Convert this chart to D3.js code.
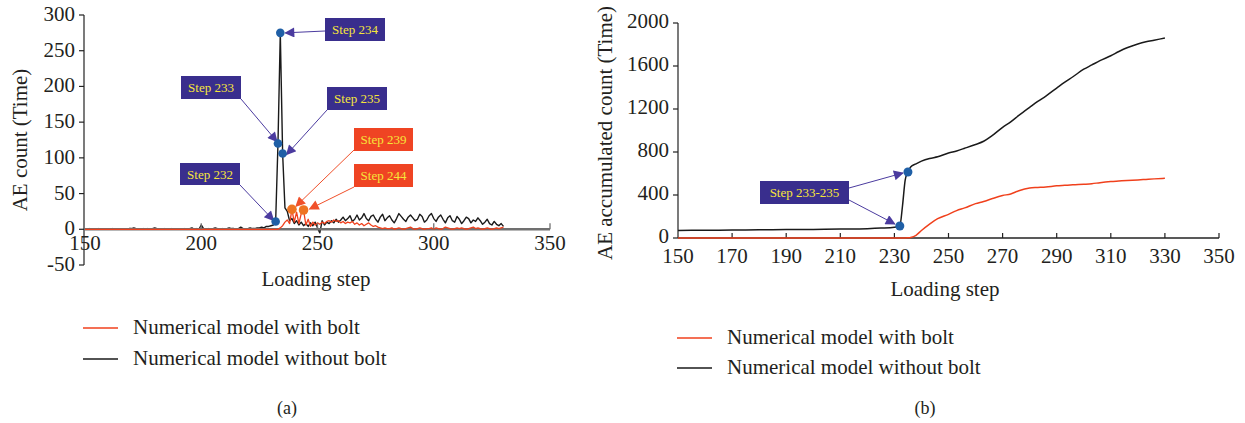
<!DOCTYPE html>
<html><head><meta charset="utf-8">
<script src="https://cdn.jsdelivr.net/npm/d3@7"></script>
<style>body{margin:0;background:#fff}</style>
</head><body>
<svg id="c" width="1245" height="423"></svg>
<script>
// ---------- DATA ----------
const stepsA = d3.range(150, 331);
const blackA = [
0,0,1,0,0,0,1,0,0,0,
0,0,1,0,0,0,0,0,0,1,
1,2,1,0,0,1,0,1,0,1,
2,1,0,0,1,0,0,1,0,0,
1,0,0,1,0,1,2,0,1,0,
6,1,0,1,0,1,2,1,0,1,
0,1,2,1,1,0,1,3,1,0,
1,2,1,1,2,2,3,2,4,4,
5,6,11,120,275,106,30,25,12,15,
8,12,6,10,5,8,4,9,5,10,
2,-5,12,6,10,8,12,9,14,10,
13,17,12,15,19,11,14,20,13,16,
22,15,12,18,20,14,10,17,21,12,
16,19,13,9,15,22,18,14,11,17,
20,16,12,14,21,18,10,13,19,22,
15,11,17,20,14,9,16,19,12,10,
18,14,8,12,17,15,9,13,11,16,
12,7,10,14,8,6,11,7,5,8,
4];
const redA = [
0,0,0,0,0,0,0,0,0,0,
0,0,0,0,0,0,0,0,0,0,
0,0,0,0,0,0,0,0,0,0,
0,0,0,0,0,0,0,0,0,0,
0,0,0,0,0,0,0,0,0,0,
0,0,0,0,0,0,0,0,0,0,
0,0,0,0,0,0,0,0,0,0,
0,0,0,0,0,0,0,0,0,0,
0,0,0,0,2,5,10,13,8,28,
10,24,8,22,27,6,14,4,10,6,
9,7,10,8,11,12,10,13,11,12,
9,11,8,10,9,11,7,9,6,8,
5,7,9,6,4,5,3,2,1,2,
1,1,2,0,1,2,1,0,1,2,
3,1,0,1,2,1,0,1,1,2,
0,2,1,0,1,3,2,1,0,1,
2,1,2,1,0,1,2,3,1,2,
1,0,1,2,1,0,1,2,1,2,
3];
const xTicksA = [150,200,250,300,350];
const yTicksA = [-50,0,50,100,150,200,250,300];
const markedBlackA = [232,233,234,235];
const markedRedA = [239,244];

const stepsB = [150,160,170,180,190,200,210,220,225,230,232,233,234,235,236,238,240,243,246,250,253,256,260,263,266,270,273,276,280,283,286,290,293,296,300,303,306,310,313,316,320,323,326,330];
const blackB = [70,72,74,76,78,80,83,87,92,100,112,300,540,614,660,690,715,740,755,790,810,835,870,900,950,1030,1080,1140,1215,1270,1320,1395,1450,1500,1570,1610,1650,1695,1735,1770,1805,1825,1840,1860];
const redB   = [0,0,0,0,0,0,0,0,0,0,0,0,0,2,5,25,70,130,180,220,255,280,320,340,365,395,410,440,465,470,475,485,490,495,500,505,515,525,530,535,540,545,550,555];
const xTicksB = [150,170,190,210,230,250,270,290,310,330,350];
const yTicksB = [0,400,800,1200,1600,2000];
const markedBlackB = [232,235];

const seriesNames = ["Numerical model with bolt","Numerical model without bolt"];

// ---------- STYLE ----------
const FONT = '"Liberation Serif", Tinos, "Nimbus Roman", "Nimbus Roman No9 L", FreeSerif, "DejaVu Serif", serif';
const RED="#f0401c", BLACK="#1a1a1a", BOXBLUE="#392e8d", BOXORANGE="#ef4423",
      TXTYEL="#f6e53a", ARBLUE="#4b3b9f", ARORANGE="#f0502a", DOTBLUE="#1f5fa6", DOTORANGE="#ee7422";
const svg = d3.select("#c").style("font-family",FONT);
const defs = svg.append("defs");
function marker(id,col){
  defs.append("marker").attr("id",id).attr("viewBox","0 0 10 10").attr("refX",9).attr("refY",5)
   .attr("markerWidth",12).attr("markerHeight",10).attr("markerUnits","userSpaceOnUse").attr("orient","auto")
   .append("path").attr("d","M0,0L10,5L0,10Z").attr("fill",col);
}
marker("ab",ARBLUE); marker("ao",ARORANGE);
const FS=21;
function txt(g,x,y,s,anchor,size,col){
  return g.append("text").attr("x",x).attr("y",y).attr("text-anchor",anchor||"start")
    .style("font-size",(size||FS)+"px").style("font-family",FONT).attr("fill",col||"#231f20").text(s);
}

// ---------- CHART A ----------
const xA = d3.scaleLinear().domain([150,350]).range([85,550]);
const yA = d3.scaleLinear().domain([-50,300]).range([265,15]);
const gA = svg.append("g");
gA.append("line").attr("x1",84).attr("x2",84).attr("y1",yA(300)).attr("y2",yA(-50)).attr("stroke","#222").attr("stroke-width",1.2);
yTicksA.forEach(t=>{
  gA.append("line").attr("x1",79).attr("x2",84).attr("y1",yA(t)).attr("y2",yA(t)).attr("stroke","#222").attr("stroke-width",1.2);
  txt(gA,75,yA(t)+6,t,"end");
});
const lineA = d3.line().x(d=>xA(d[0])).y(d=>yA(d[1]));
gA.append("path").datum(stepsA.map((s,i)=>[s,blackA[i]])).attr("d",lineA).attr("fill","none").attr("stroke",BLACK).attr("stroke-width",1.4).attr("stroke-linejoin","round");
gA.append("line").attr("x1",84).attr("x2",xA(350)).attr("y1",yA(0)).attr("y2",yA(0)).attr("stroke","#707070").attr("stroke-width",2.6);
gA.append("path").datum(stepsA.map((s,i)=>[s,redA[i]])).attr("d",lineA).attr("fill","none").attr("stroke",RED).attr("stroke-width",1.3).attr("stroke-linejoin","round");
xTicksA.forEach(t=>{
  if(t>150) gA.append("line").attr("x1",xA(t)).attr("x2",xA(t)).attr("y1",yA(0)).attr("y2",yA(0)-6).attr("stroke","#707070").attr("stroke-width",1.3);
  txt(gA,xA(t),yA(0)+21,t,"middle");
});
txt(gA,316,286,"Loading step","middle");
txt(gA,0,0,"AE count (Time)","middle").attr("transform","translate(27,140) rotate(-90)");

function box(g,x0,y0,x1,y1,fill,label){
  g.append("rect").attr("x",x0).attr("y",y0).attr("width",x1-x0).attr("height",y1-y0).attr("fill",fill);
  txt(g,(x0+x1)/2,(y0+y1)/2+4.5,label,"middle",13,TXTYEL);
}
function arrow(g,x0,y0,x1,y1,col,mk){
  g.append("line").attr("x1",x0).attr("y1",y0).attr("x2",x1).attr("y2",y1).attr("stroke",col).attr("stroke-width",1).attr("marker-end",`url(#${mk})`);
}
const valA = s => blackA[stepsA.indexOf(s)];
const valRA = s => redA[stepsA.indexOf(s)];
arrow(gA,325,31,xA(234)+5,yA(valA(234)),ARBLUE,"ab");
arrow(gA,241,99,xA(233)-1,yA(valA(233))-2,ARBLUE,"ab");
arrow(gA,327,110,xA(235)+4,yA(valA(235))+1,ARBLUE,"ab");
arrow(gA,240,185,xA(232)-2,yA(valA(232))-1,ARBLUE,"ab");
arrow(gA,354,150,xA(239)+4,yA(valRA(239))-3,ARORANGE,"ao");
arrow(gA,354,187,xA(244)+6,yA(valRA(244))-1,ARORANGE,"ao");
markedBlackA.forEach(s=>gA.append("circle").attr("cx",xA(s)).attr("cy",yA(valA(s))).attr("r",4.3).attr("fill",DOTBLUE));
markedRedA.forEach(s=>gA.append("circle").attr("cx",xA(s)).attr("cy",yA(valRA(s))).attr("r",4.8).attr("fill",DOTORANGE));
box(gA,325,18,385,41,BOXBLUE,"Step 234");
box(gA,181,76,241,99,BOXBLUE,"Step 233");
box(gA,327,87,387,110,BOXBLUE,"Step 235");
box(gA,180,163,240,185,BOXBLUE,"Step 232");
box(gA,354,128,413,151,BOXORANGE,"Step 239");
box(gA,354,164,413,187,BOXORANGE,"Step 244");

function legend(g,x,y0,dy){
  [RED,BLACK].forEach((c,i)=>{
    g.append("line").attr("x1",x).attr("x2",x+35).attr("y1",y0+i*dy).attr("y2",y0+i*dy).attr("stroke",c).attr("stroke-width",1.3);
    txt(g,x+50,y0+i*dy+6,seriesNames[i]);
  });
}
legend(gA,83,328,31);
txt(gA,287,414,"(a)","middle",18);

// ---------- CHART B ----------
const xB = d3.scaleLinear().domain([150,350]).range([678,1219]);
const yB = d3.scaleLinear().domain([0,2000]).range([238,23]);
const gB = svg.append("g");
gB.append("line").attr("x1",xB(150)).attr("x2",xB(150)).attr("y1",yB(2000)).attr("y2",yB(0)).attr("stroke","#222").attr("stroke-width",1.2);
yTicksB.forEach(t=>{
  gB.append("line").attr("x1",xB(150)-5).attr("x2",xB(150)).attr("y1",yB(t)).attr("y2",yB(t)).attr("stroke","#222").attr("stroke-width",1.2);
  txt(gB,xB(150)-9,yB(t)+5,t,"end");
});
gB.append("line").attr("x1",xB(150)).attr("x2",xB(350)).attr("y1",yB(0)).attr("y2",yB(0)).attr("stroke","#222").attr("stroke-width",1.3);
xTicksB.forEach(t=>{
  if(t>150) gB.append("line").attr("x1",xB(t)).attr("x2",xB(t)).attr("y1",yB(0)).attr("y2",yB(0)-5).attr("stroke","#222").attr("stroke-width",1.2);
  txt(gB,xB(t),yB(0)+25,t,"middle");
});
const lineB = d3.line().x(d=>xB(d[0])).y(d=>yB(d[1])).curve(d3.curveMonotoneX);
gB.append("path").datum(stepsB.map((s,i)=>[s,redB[i]])).attr("d",lineB).attr("fill","none").attr("stroke",RED).attr("stroke-width",1.5);
gB.append("path").datum(stepsB.map((s,i)=>[s,blackB[i]])).attr("d",lineB).attr("fill","none").attr("stroke",BLACK).attr("stroke-width",1.5);
txt(gB,945,296,"Loading step","middle");
txt(gB,0,0,"AE accumulated count (Time)","middle").attr("transform","translate(612,133) rotate(-90)");
const valB = s => blackB[stepsB.indexOf(s)];
arrow(gB,849,188,xB(235)-5,yB(valB(235))+1,ARBLUE,"ab");
arrow(gB,849,200,xB(232)-5,yB(valB(232))-2,ARBLUE,"ab");
markedBlackB.forEach(s=>gB.append("circle").attr("cx",xB(s)).attr("cy",yB(valB(s))).attr("r",4.5).attr("fill",DOTBLUE));
box(gB,760,181,849,204,BOXBLUE,"Step 233-235");
legend(gB,677,338,30);
txt(gB,925,414,"(b)","middle",18);
</script>
</body></html>
